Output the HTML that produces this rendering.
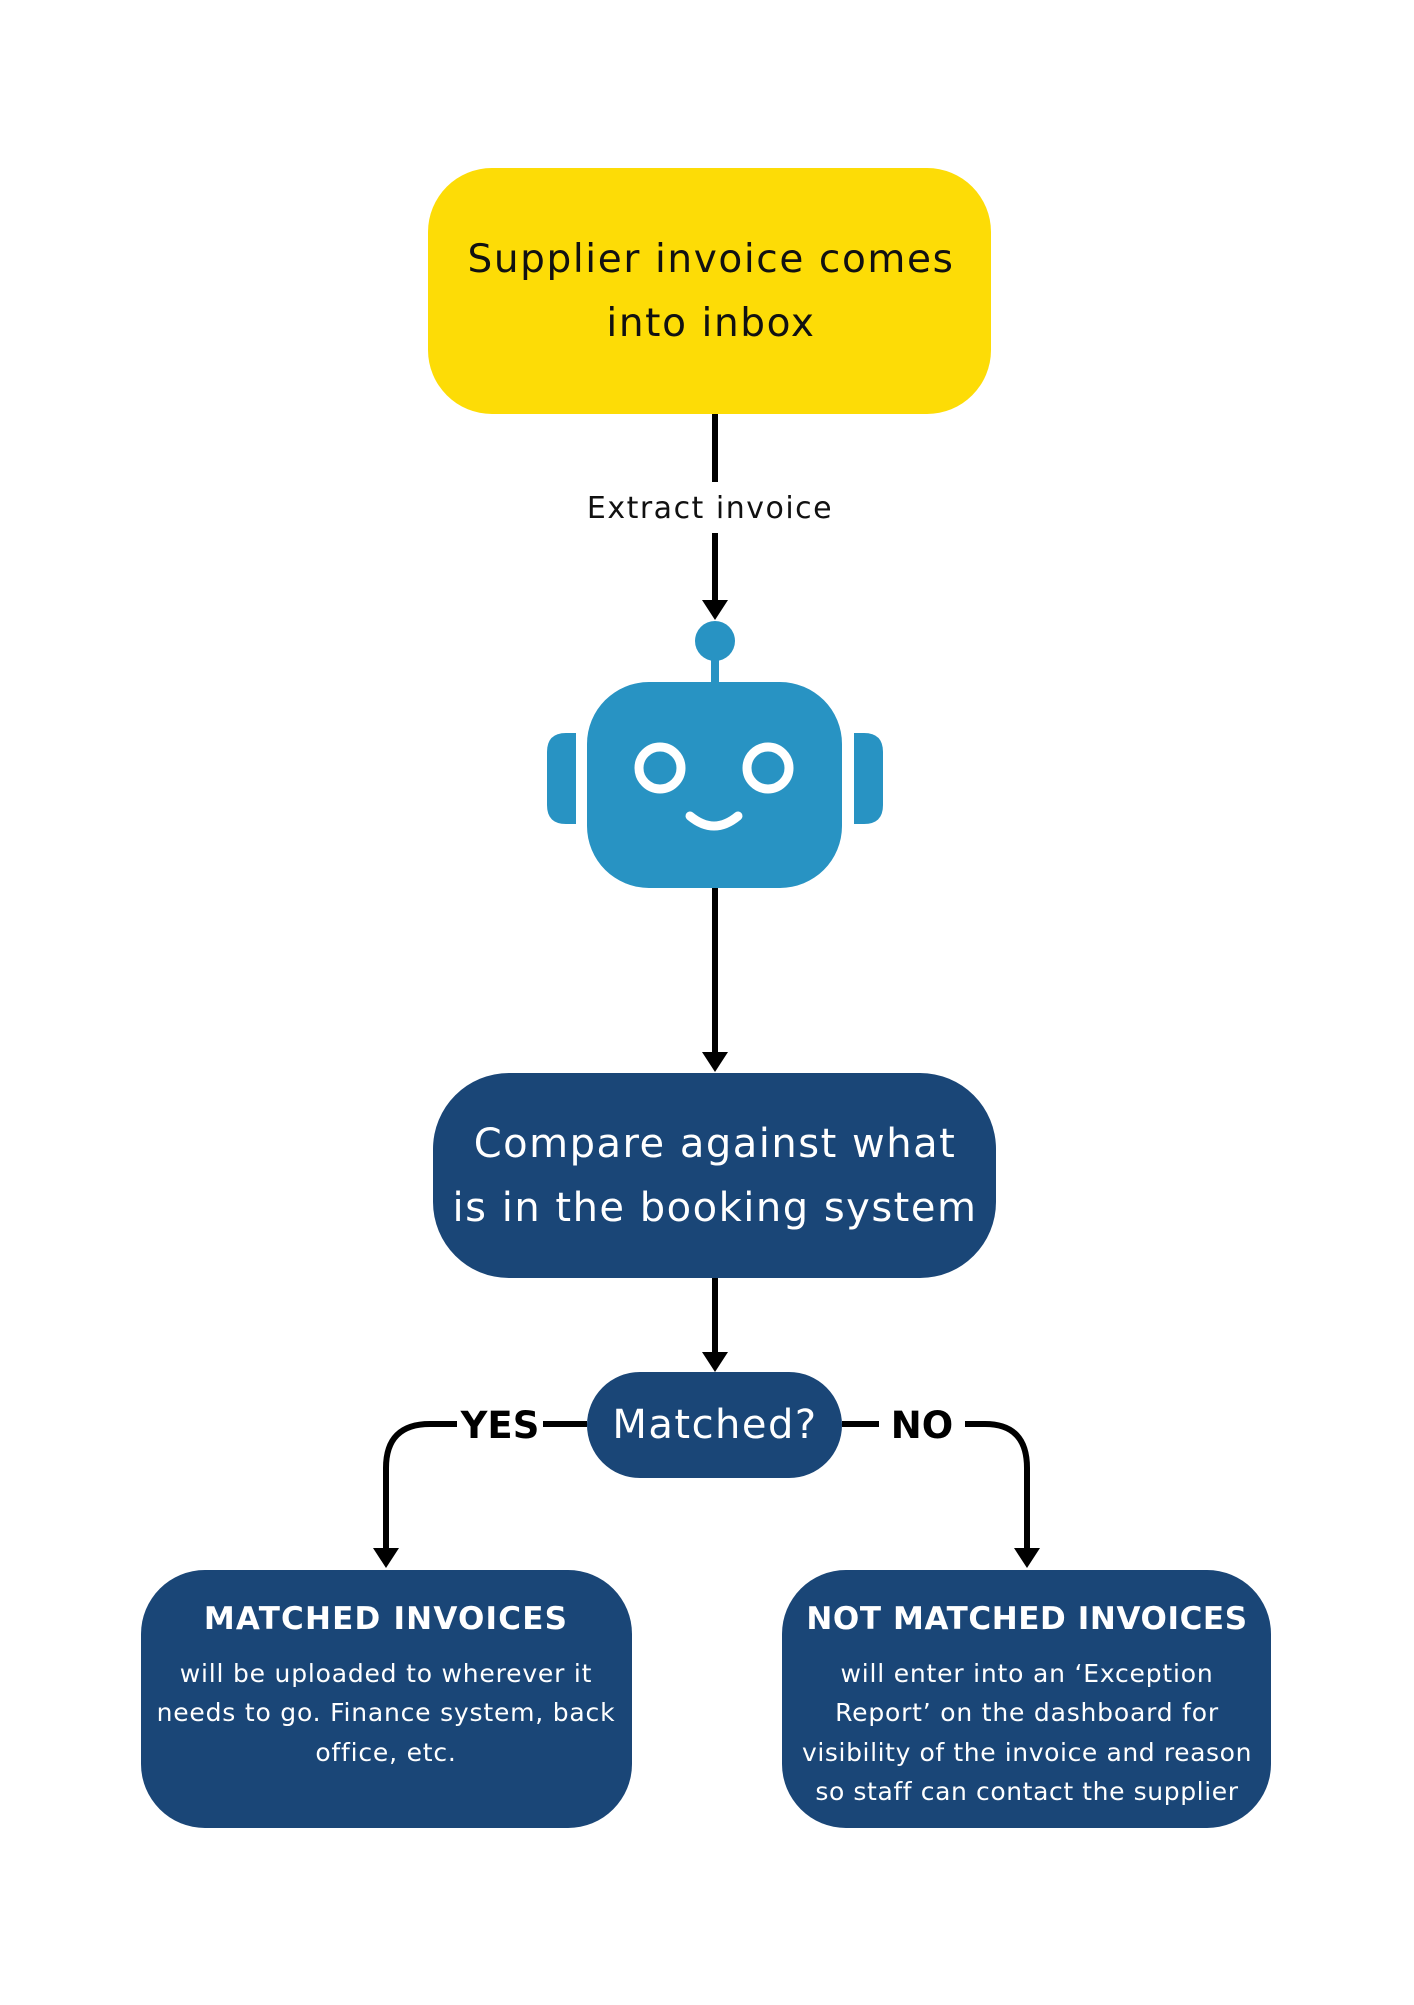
<!DOCTYPE html>
<html><head><meta charset="utf-8"><style>
body{margin:0;background:#fff}
svg text{font-family:"DejaVu Sans","Liberation Sans",sans-serif}
</style></head><body>
<svg width="1414" height="2000" viewBox="0 0 1414 2000" xmlns="http://www.w3.org/2000/svg">
<rect x="428" y="168" width="563" height="246" rx="64" fill="#FDDC06"/>
<text x="711" y="272" font-size="39" letter-spacing="1.6" text-anchor="middle" fill="#111">Supplier invoice comes</text>
<text x="711" y="336" font-size="39" letter-spacing="1.6" text-anchor="middle" fill="#111">into inbox</text>
<g stroke="#000" stroke-width="6" fill="none">
<line x1="715" y1="414" x2="715" y2="482"/>
<line x1="715" y1="533" x2="715" y2="600"/>
<line x1="715" y1="888" x2="715" y2="1052"/>
<line x1="715" y1="1278" x2="715" y2="1352"/>
<path d="M587,1424H543M457,1424H430Q386,1424 386,1468V1548"/>
<path d="M842,1424H879M965,1424H985Q1027,1424 1027,1468V1548"/>
</g>
<g fill="#000">
<path d="M702,600L728,600L715,620z"/>
<path d="M702,1052L728,1052L715,1072z"/>
<path d="M702,1352L728,1352L715,1372z"/>
<path d="M373,1548L399,1548L386,1568z"/>
<path d="M1014,1548L1040,1548L1027,1568z"/>
</g>
<text x="710" y="518" font-size="30" letter-spacing="1.5" text-anchor="middle" fill="#111">Extract invoice</text>
<circle cx="715" cy="641" r="20" fill="#2893C3"/>
<rect x="711" y="650" width="8" height="36" fill="#2893C3"/>
<rect x="587" y="682" width="255" height="206" rx="62" fill="#2893C3"/>
<path d="M576,733H566Q547,733 547,752V805Q547,824 566,824H576z" fill="#2893C3"/>
<path d="M854,733H864Q883,733 883,752V805Q883,824 864,824H854z" fill="#2893C3"/>
<circle cx="660" cy="768" r="21" fill="none" stroke="#fff" stroke-width="9"/>
<circle cx="768" cy="768" r="21" fill="none" stroke="#fff" stroke-width="9"/>
<path d="M690,816Q714,836 738,816" fill="none" stroke="#fff" stroke-width="9" stroke-linecap="round"/>
<rect x="433" y="1073" width="563" height="205" rx="76" fill="#1A4677"/>
<text x="715" y="1157" font-size="40" letter-spacing="1.5" text-anchor="middle" fill="#fff">Compare against what</text>
<text x="715" y="1221" font-size="40" letter-spacing="1.5" text-anchor="middle" fill="#fff">is in the booking system</text>
<rect x="587" y="1372" width="255" height="106" rx="53" fill="#1A4677"/>
<text x="715" y="1438" font-size="40" letter-spacing="1.5" text-anchor="middle" fill="#fff">Matched?</text>
<text x="500" y="1438" font-size="37" font-weight="bold" text-anchor="middle" fill="#000">YES</text>
<text x="922" y="1438" font-size="37" font-weight="bold" text-anchor="middle" fill="#000">NO</text>
<rect x="141" y="1570" width="491" height="258" rx="64" fill="#1A4677"/>
<rect x="782" y="1570" width="489" height="258" rx="64" fill="#1A4677"/>
<g fill="#fff" text-anchor="middle">
<text x="386" y="1629" font-size="31" font-weight="bold" letter-spacing="1.2">MATCHED INVOICES</text>
<text x="386" y="1682" font-size="25" letter-spacing="0.8">will be uploaded to wherever it</text>
<text x="386" y="1721" font-size="25" letter-spacing="0.8">needs to go. Finance system, back</text>
<text x="386" y="1761" font-size="25" letter-spacing="0.8">office, etc.</text>
<text x="1027" y="1629" font-size="31" font-weight="bold" letter-spacing="0.6">NOT MATCHED INVOICES</text>
<text x="1027" y="1682" font-size="25" letter-spacing="0.8">will enter into an ‘Exception</text>
<text x="1027" y="1721" font-size="25" letter-spacing="0.8">Report’ on the dashboard for</text>
<text x="1027" y="1761" font-size="25" letter-spacing="0.6">visibility of the invoice and reason</text>
<text x="1027" y="1800" font-size="25" letter-spacing="0.6">so staff can contact the supplier</text>
</g>
</svg>
</body></html>
